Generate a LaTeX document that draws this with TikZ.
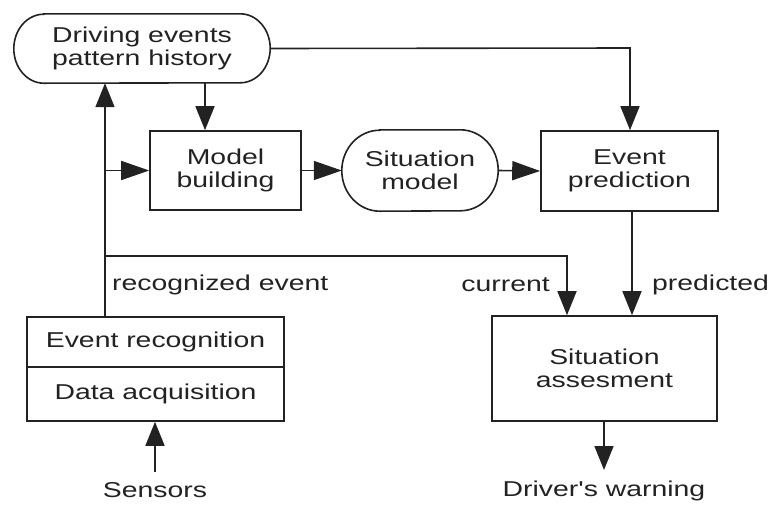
\documentclass[tikz,border=0pt]{standalone}
\usepackage{fontspec}
\setmainfont{Liberation Sans}[FakeStretch=1.32,Ligatures=TeXOff]
\usetikzlibrary{arrows.meta,calc}
\definecolor{ink}{HTML}{222222}
\begin{document}
\begin{tikzpicture}[x=1pt,y=-1pt,
  every node/.style={font=\fontsize{21.5}{23}\selectfont, text=ink, align=center, inner sep=0pt},
  line/.style={draw=ink, line width=1.6pt},
  blockbox/.style={line, rectangle},
  shell/.style={rectangle},
  varr/.style={line, -{Triangle[length=24pt,width=19pt]}},
  harr/.style={line, -{Triangle[length=28pt,width=19pt]}},
  lbl/.style={font=\fontsize{21.5}{23}\selectfont}
]
\useasboundingbox (0,0) rectangle (771,504);

% stadium-shaped stores
\node[shell, minimum width=256pt, minimum height=69pt] (hist) at (142,48.5) {Driving events\\pattern history};
\node[shell, minimum width=156pt, minimum height=81pt] (sitmodel) at (420,170.5) {Situation\\model};
\draw[line] ([xshift=30pt]hist.north west) -- ([xshift=-30pt]hist.north east)
  arc[start angle=90,end angle=-90,x radius=30pt,y radius=34.5pt]
  -- ([xshift=30pt]hist.south west)
  arc[start angle=270,end angle=90,x radius=30pt,y radius=34.5pt] -- cycle;
\draw[line] ([xshift=38pt]sitmodel.north west) -- ([xshift=-38pt]sitmodel.north east)
  arc[start angle=90,end angle=-90,x radius=38pt,y radius=40.5pt]
  -- ([xshift=38pt]sitmodel.south west)
  arc[start angle=270,end angle=90,x radius=38pt,y radius=40.5pt] -- cycle;

% processing blocks
\node[blockbox, minimum width=151pt, minimum height=79pt] (model) at (225.5,170.5) {Model\\building};
\node[blockbox, minimum width=177pt, minimum height=80pt] (pred) at (629.5,171) {Event\\prediction};
\node[blockbox, minimum width=257pt, minimum height=50pt] (recog) at (155.5,342) {Event recognition};
\node[blockbox, minimum width=257pt, minimum height=54pt] (acq) at (155.5,394) {Data acquisition};
\node[blockbox, minimum width=225pt, minimum height=105pt] (assess) at (604.5,368.5) {Situation\\assesment};

% inputs and outputs
\node (sensors) at (155,490) {Sensors};
\node (warning) at (604,491) {Driver's warning};

% labels on the flows
\node[lbl, anchor=west] (lrec) at (112,285) {recognized event};
\node[lbl, anchor=east] (lcur) at (550,285) {current};
\node[lbl, anchor=west] (lpred) at (652,285) {predicted};

% routing coordinates
\coordinate (trunk) at (105,0);
\coordinate (hdown) at (205,0);
\coordinate (branch) at (105,256);
\coordinate (corner) at (567,256);
\coordinate (topright) at (630,48);
\coordinate (predx) at (632,0);
\coordinate (sin) at (155,472);
\coordinate (wout) at (604,470);

% connectors
\draw[varr] (recog.north -| trunk) -- (hist.south -| trunk);
\draw[harr] (model.west -| trunk) -- (model.west);
\draw[varr] (branch) -- (corner) -- (assess.north -| corner);
\draw[varr] (hist.south -| hdown) -- (model.north -| hdown);
\draw[harr] (model.east) -- (sitmodel.west);
\draw[harr] (sitmodel.east) -- (pred.west);
\draw[varr] (hist.east) -- (topright) -- (pred.north -| topright);
\draw[varr] (pred.south -| predx) -- (assess.north -| predx);
\draw[varr] (sin) -- (acq.south -| sin);
\draw[varr] (assess.south -| wout) -- (wout);
\end{tikzpicture}
\end{document}
